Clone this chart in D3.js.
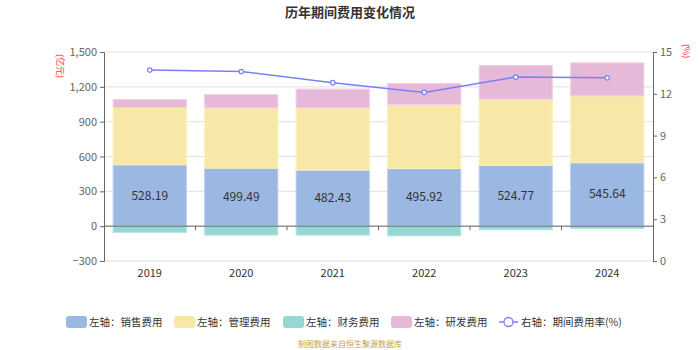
<!DOCTYPE html>
<html>
<head>
<meta charset="utf-8">
<script src="https://cdn.jsdelivr.net/npm/d3@7"></script>
<style>
	body { margin: 0; background: #fff; }
	svg text { font-family: "Microsoft YaHei", "Noto Sans CJK SC", sans-serif; }
</style>
</head>
<body>
<div id="chart"></div>
<script>
'use strict';

// data
const years = ["2019", "2020", "2021", "2022", "2023", "2024"];
const sales = [528.19, 499.49, 482.43, 495.92, 524.77, 545.64];
const admin = [494, 520, 538, 552, 569, 577];
const finance = [-54, -77, -77, -83, -31, -20];
const rnd = [69, 114, 160, 181, 290, 284];
const rate = [13.7, 13.6, 12.8, 12.1, 13.2, 13.15];
const leftTicks = [-300, 0, 300, 600, 900, 1200, 1500];
const rightTicks = [0, 3, 6, 9, 12, 15];

const width = 700, height = 350;
const margin = { top: 52, right: 47, bottom: 89, left: 104 };

const svg = d3.select("#chart").append("svg")
	.attr("width", width)
	.attr("height", height);

svg.append("text")
	.attr("x", width / 2)
	.attr("y", 17)
	.attr("text-anchor", "middle")
	.attr("font-size", 13)
	.attr("font-weight", "bold")
	.attr("fill", "#333")
	.text("历年期间费用变化情况");

const x = d3.scaleBand()
	.domain(years)
	.range([margin.left, width - margin.right])
	.paddingInner(0.2)
	.paddingOuter(0.1);

const y = d3.scaleLinear()
	.domain([-300, 1500])
	.range([height - margin.bottom, margin.top]);

const yr = d3.scaleLinear()
	.domain([0, 15])
	.range([height - margin.bottom, margin.top]);

// gridlines
svg.append("g")
	.selectAll("line")
	.data(leftTicks)
	.join("line")
		.attr("x1", margin.left)
		.attr("x2", width - margin.right)
		.attr("y1", d => y(d))
		.attr("y2", d => y(d))
		.attr("stroke", "#e0e0e0")
		.attr("stroke-width", 1);

// stacked bars
const colors = {
	sales: "#9bb8e2",
	admin: "#f8e8a8",
	finance: "#96d6d3",
	rnd: "#e7b9d9"
};
const strokes = {
	sales: "#b9cef0",
	admin: "#fbf0b8",
	finance: "#b2e6e3",
	rnd: "#f0cfe6"
};

const segs = [];
years.forEach((yr_, i) => {
	segs.push({ key: "sales", year: yr_, y0: 0, y1: sales[i] });
	segs.push({ key: "admin", year: yr_, y0: sales[i], y1: sales[i] + admin[i] });
	segs.push({ key: "rnd", year: yr_, y0: sales[i] + admin[i], y1: sales[i] + admin[i] + rnd[i] });
	segs.push({ key: "finance", year: yr_, y0: finance[i], y1: 0 });
});

svg.append("g")
	.selectAll("rect")
	.data(segs)
	.join("rect")
		.attr("x", d => x(d.year))
		.attr("width", x.bandwidth())
		.attr("y", d => y(d.y1))
		.attr("height", d => y(d.y0) - y(d.y1))
		.attr("fill", d => colors[d.key])
		.attr("stroke", d => strokes[d.key])
		.attr("stroke-width", 1);

// labels in sales segment
svg.append("g")
	.selectAll("text")
	.data(sales)
	.join("text")
		.attr("x", (d, i) => x(years[i]) + x.bandwidth() / 2)
		.attr("y", d => y(d / 2) + 4)
		.attr("text-anchor", "middle")
		.attr("font-size", 12)
		.attr("fill", "#333")
		.text(d => d.toFixed(2));

// left axis
const yAxis = svg.append("g")
	.attr("transform", `translate(${margin.left},0)`)
	.call(d3.axisLeft(y).tickValues(leftTicks).tickSize(4).tickPadding(3)
		.tickFormat(d3.format(",")));
yAxis.select(".domain").attr("stroke", "#666");
yAxis.selectAll(".tick line").attr("stroke", "#666");
yAxis.selectAll(".tick text").attr("fill", "#666").attr("font-size", 11);

// right axis
const yrAxis = svg.append("g")
	.attr("transform", `translate(${width - margin.right},0)`)
	.call(d3.axisRight(yr).tickValues(rightTicks).tickSize(4).tickPadding(3));
yrAxis.select(".domain").attr("stroke", "#666");
yrAxis.selectAll(".tick line").attr("stroke", "#666");
yrAxis.selectAll(".tick text").attr("fill", "#666").attr("font-size", 11);

// x axis on zero line
const xAxis = svg.append("g")
	.attr("transform", `translate(0,${y(0)})`);
xAxis.append("line")
	.attr("x1", margin.left)
	.attr("x2", width - margin.right)
	.attr("stroke", "#666");
xAxis.selectAll("line.tk")
	.data(years.slice(1))
	.join("line")
		.attr("class", "tk")
		.attr("x1", d => x(d) - x.step() * x.paddingInner() / 2)
		.attr("x2", d => x(d) - x.step() * x.paddingInner() / 2)
		.attr("y1", 0)
		.attr("y2", 4)
		.attr("stroke", "#666");

svg.append("g")
	.selectAll("text")
	.data(years)
	.join("text")
		.attr("x", d => x(d) + x.bandwidth() / 2)
		.attr("y", y(-300) + 16)
		.attr("text-anchor", "middle")
		.attr("font-size", 11)
		.attr("fill", "#333")
		.text(d => d);

// unit labels
svg.append("text")
	.attr("transform", `translate(57,${margin.top + 2}) rotate(90)`)
	.attr("font-size", 9)
	.attr("fill", "#f33")
	.text("(亿元)");
svg.append("text")
	.attr("transform", `translate(683,${margin.top - 8}) rotate(90)`)
	.attr("font-size", 9)
	.attr("fill", "#f33")
	.text("(%)");

// rate line
const lineGen = d3.line()
	.x((d, i) => x(years[i]) + x.bandwidth() / 2)
	.y(d => yr(d));
svg.append("path")
	.datum(rate)
	.attr("d", lineGen)
	.attr("fill", "none")
	.attr("stroke", "#7b7ff5")
	.attr("stroke-width", 1.5);
svg.append("g")
	.selectAll("circle")
	.data(rate)
	.join("circle")
		.attr("cx", (d, i) => x(years[i]) + x.bandwidth() / 2)
		.attr("cy", d => yr(d))
		.attr("r", 2.2)
		.attr("fill", "#fff")
		.attr("stroke", "#7b7ff5")
		.attr("stroke-width", 1.2);

// legend
const legendItems = [
	{ label: "左轴：销售费用", color: colors.sales, x: 66 },
	{ label: "左轴：管理费用", color: colors.admin, x: 174 },
	{ label: "左轴：财务费用", color: colors.finance, x: 283 },
	{ label: "左轴：研发费用", color: colors.rnd, x: 391 }
];
const lg = svg.append("g");
legendItems.forEach(it => {
	lg.append("rect")
		.attr("x", it.x)
		.attr("y", 316)
		.attr("width", 21)
		.attr("height", 12)
		.attr("rx", 3)
		.attr("fill", it.color);
	lg.append("text")
		.attr("x", it.x + 23)
		.attr("y", 326)
		.attr("font-size", 10.5)
		.attr("fill", "#333")
		.text(it.label);
});
lg.append("line")
	.attr("x1", 499).attr("x2", 518)
	.attr("y1", 322).attr("y2", 322)
	.attr("stroke", "#7b7ff5").attr("stroke-width", 1.5);
lg.append("circle")
	.attr("cx", 508.5).attr("cy", 322).attr("r", 4.5)
	.attr("fill", "#fff").attr("stroke", "#7b7ff5").attr("stroke-width", 1.3);
lg.append("text")
	.attr("x", 521)
	.attr("y", 326)
	.attr("font-size", 10.5)
	.attr("fill", "#333")
	.text("右轴：期间费用率(%)");

svg.append("text")
	.attr("x", width / 2)
	.attr("y", 347)
	.attr("text-anchor", "middle")
	.attr("font-size", 8)
	.attr("fill", "#c9a04e")
	.text("制图数据来自恒生聚源数据库");
</script>
</body>
</html>
